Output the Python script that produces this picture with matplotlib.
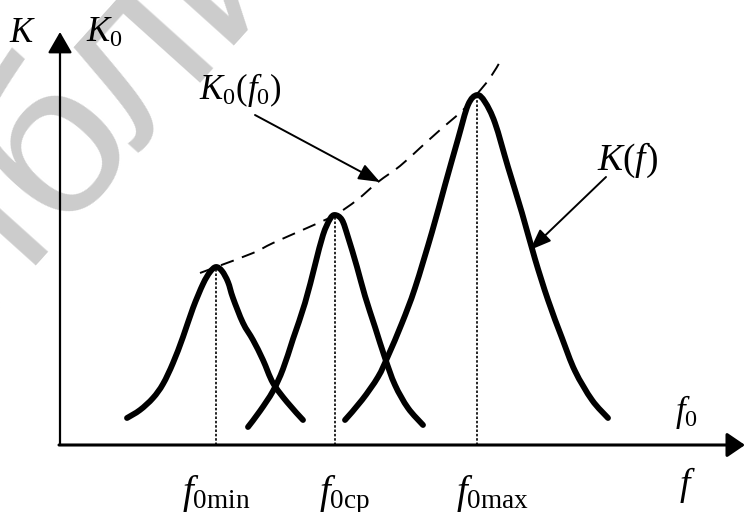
import matplotlib.pyplot as plt
from matplotlib.path import Path
from matplotlib.patches import PathPatch

plt.rcParams['font.family'] = ['Liberation Serif', 'DejaVu Serif']
plt.rcParams['mathtext.fontset'] = 'custom'
plt.rcParams['mathtext.rm'] = 'Liberation Serif'
plt.rcParams['mathtext.it'] = 'Liberation Serif:italic'

# resonance curves K(f) (K counted up from the f axis)
f_curve_min = [127, 140, 153, 163, 173, 183, 193, 203, 210, 216, 222, 228, 233, 243, 253, 263, 273, 287, 303]
k_curve_min = [27, 35, 47, 61, 82, 108, 137, 161, 173, 178, 174, 163, 147, 122, 105, 85, 62, 43, 25]

f_curve_mid = [248, 260, 273, 283, 293, 305, 315, 323, 330, 335, 342, 348, 357, 365, 375, 385, 395, 408, 423]
k_curve_mid = [18, 34, 54, 76, 106, 142, 180, 210, 226, 230, 225, 208, 178, 149, 118, 87, 60, 37, 20]

f_curve_max = [345, 362, 378, 388, 402, 415, 432, 445, 458, 468, 477, 485, 495, 508, 522, 535, 548, 562, 575, 592, 608]
k_curve_max = [25, 45, 68, 89, 122, 157, 213, 260, 306, 340, 350, 343, 322, 278, 232, 186, 145, 107, 74, 45, 27]

# envelope K0(f0) (dashed)
f_env = [200, 216, 253, 273, 307, 335, 357, 378, 400, 420, 440, 463, 477, 490, 501]
k_env = [172, 178, 192, 202, 217, 230, 245, 263, 279, 297, 315, 335, 351, 367, 385]

# resonance frequencies and peak gains
f0_values = [216, 335, 477]
k0_values = [178, 230, 350]
f0_labels = [r'$f_{0\mathrm{min}}$', r'$f_{0\mathrm{ср}}$', r'$f_{0\mathrm{max}}$']


def smooth_path(xs, ys):
    # bezier through the read points (catmull-rom control points)
    pts = list(zip(xs, ys))
    verts = [pts[0]]
    codes = [Path.MOVETO]
    for i in range(len(pts) - 1):
        p0 = pts[i - 1] if i > 0 else pts[i]
        p1 = pts[i]
        p2 = pts[i + 1]
        p3 = pts[i + 2] if i + 2 < len(pts) else pts[i + 1]
        c1 = (p1[0] + (p2[0] - p0[0]) / 6, p1[1] + (p2[1] - p0[1]) / 6)
        c2 = (p2[0] - (p3[0] - p1[0]) / 6, p2[1] - (p3[1] - p1[1]) / 6)
        verts += [c1, c2, p2]
        codes += [Path.CURVE4] * 3
    return Path(verts, codes)


fig = plt.figure(figsize=(7.45, 5.12), dpi=100)
ax = fig.add_axes([0, 0, 1, 1])
ax.set_xlim(0, 745)
ax.set_ylim(-67, 445)
ax.axis('off')

# watermark
ax.text(-121, 4, 'Библиотека БГУИР', rotation=48, rotation_mode='anchor',
        ha='left', va='baseline', fontsize=160, color='#cccccc',
        family=['Liberation Sans', 'DejaVu Sans'], zorder=0)

# axes with arrows
ax.annotate('', xy=(60, 413), xytext=(60, 0),
            arrowprops=dict(arrowstyle='-|>,head_length=1.3,head_width=0.75', lw=1.6,
                            color='k', shrinkA=0, shrinkB=0, mutation_scale=10))
ax.annotate('', xy=(745, 0), xytext=(59, 0),
            arrowprops=dict(arrowstyle='-|>,head_length=1.1,head_width=0.75', lw=2.2,
                            color='k', shrinkA=0, shrinkB=0, mutation_scale=10))

# curves
for f, k in [(f_curve_min, k_curve_min), (f_curve_mid, k_curve_mid), (f_curve_max, k_curve_max)]:
    ax.add_patch(PathPatch(smooth_path(f, k), fill=False, color='k', lw=4.2,
                           capstyle='round', joinstyle='round', zorder=3))

ax.add_patch(PathPatch(smooth_path(f_env, k_env), fill=False, color='k', lw=1.4,
                       linestyle=(0, (7, 4.5)), zorder=2))

for f0, k0 in zip(f0_values, k0_values):
    ax.plot([f0, f0], [0, k0], color='k', lw=1.2, linestyle=(0, (1.5, 1.1)), zorder=2)

# labels
ax.text(9, 403, r'$K$', fontsize=25, ha='left', va='baseline')
ax.text(86, 403, r'$K_0$', fontsize=25, ha='left', va='baseline')
ax.text(675, 24, r'$f_0$', fontsize=25, ha='left', va='baseline')
ax.text(679, -50, r'$f$', fontsize=27, ha='left', va='baseline')

for x, lab in zip([182, 319, 456], f0_labels):
    ax.text(x, -58, lab, fontsize=28, ha='left', va='baseline')

ax.text(199, 346, r'$K_0(f_0)$', fontsize=25, ha='left', va='baseline')
ax.annotate('', xy=(380, 263), xytext=(255, 330),
            arrowprops=dict(arrowstyle='-|>,head_length=1.3,head_width=0.5', lw=1.4,
                            color='k', shrinkA=0, shrinkB=0, mutation_scale=10))

ax.text(597, 275, r'$K(f)$', fontsize=27, ha='left', va='baseline')
ax.annotate('', xy=(530, 195), xytext=(606, 268),
            arrowprops=dict(arrowstyle='-|>,head_length=1.3,head_width=0.5', lw=1.4,
                            color='k', shrinkA=0, shrinkB=0, mutation_scale=10))

plt.savefig('out.png', dpi=100)
